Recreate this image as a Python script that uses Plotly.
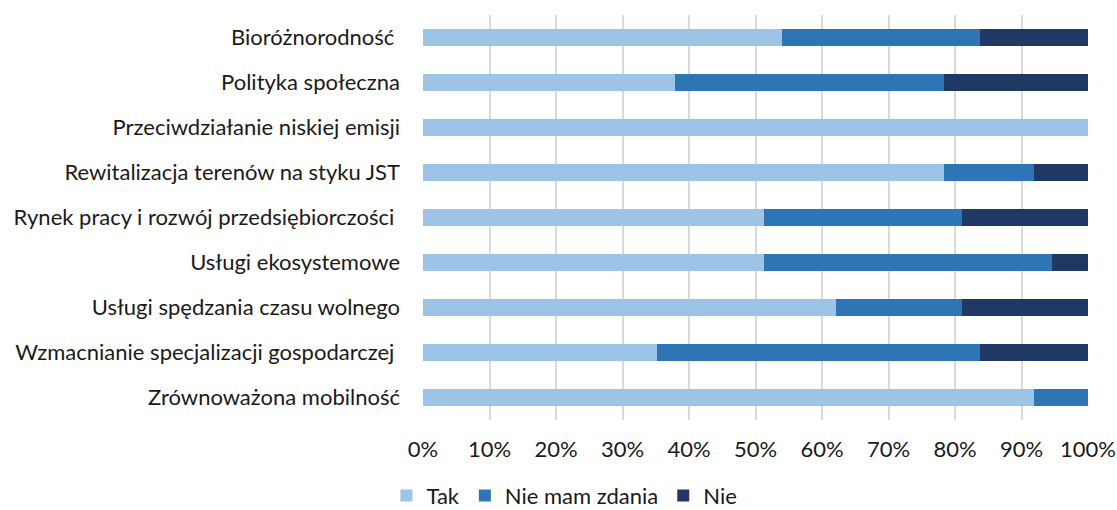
import plotly.graph_objects as go

# Survey responses per topic (number of answers)
categories = [
    "Bioróżnorodność\u00a0",
    "Polityka społeczna",
    "Przeciwdziałanie niskiej emisji",
    "Rewitalizacja terenów na styku JST",
    "Rynek pracy i rozwój przedsiębiorczości\u00a0",
    "Usługi ekosystemowe",
    "Usługi spędzania czasu wolnego",
    "Wzmacnianie specjalizacji gospodarczej\u00a0",
    "Zrównoważona mobilność",
]
tak = [20, 14, 37, 29, 19, 19, 23, 13, 34]
nie_mam_zdania = [11, 15, 0, 5, 11, 16, 7, 18, 3]
nie = [6, 8, 0, 3, 7, 2, 7, 6, 0]

series = [
    ("Tak", tak, "#9DC3E6"),
    ("Nie mam zdania", nie_mam_zdania, "#2E75B6"),
    ("Nie", nie, "#203864"),
]

tick_vals = [0, 10, 20, 30, 40, 50, 60, 70, 80, 90, 100]
tick_text = [f"{v}%" for v in tick_vals]

FONT = "Lato"

fig = go.Figure()
for name, vals, color in series:
    fig.add_trace(go.Bar(
        y=categories, x=vals, name=name, orientation="h",
        marker=dict(color=color, line=dict(width=0)),
    ))

fig.update_layout(
    barmode="stack",
    barnorm="percent",
    bargap=0.61,
    width=1117, height=510,
    margin=dict(l=423, r=29, t=15, b=90, autoexpand=False),
    paper_bgcolor="white", plot_bgcolor="white",
    font=dict(family=FONT, size=22, color="#1a1a1a"),
    showlegend=True,
    legend=dict(
        orientation="h", x=-0.055, xanchor="left", y=-0.135, yanchor="top",
        traceorder="normal", font=dict(size=22), itemwidth=30,
        tracegroupgap=0,
    ),
)
fig.update_xaxes(
    range=[0, 100], tickvals=tick_vals, ticktext=tick_text,
    showgrid=True, gridcolor="#D9D9D9", gridwidth=1.5,
    zeroline=False, showline=False, ticks="", ticklabelstandoff=14,
    fixedrange=True,
)
fig.update_yaxes(
    autorange="reversed", showgrid=False, showline=False, ticks="",
    ticklabelstandoff=22, fixedrange=True,
)

fig.write_html("out.html")
